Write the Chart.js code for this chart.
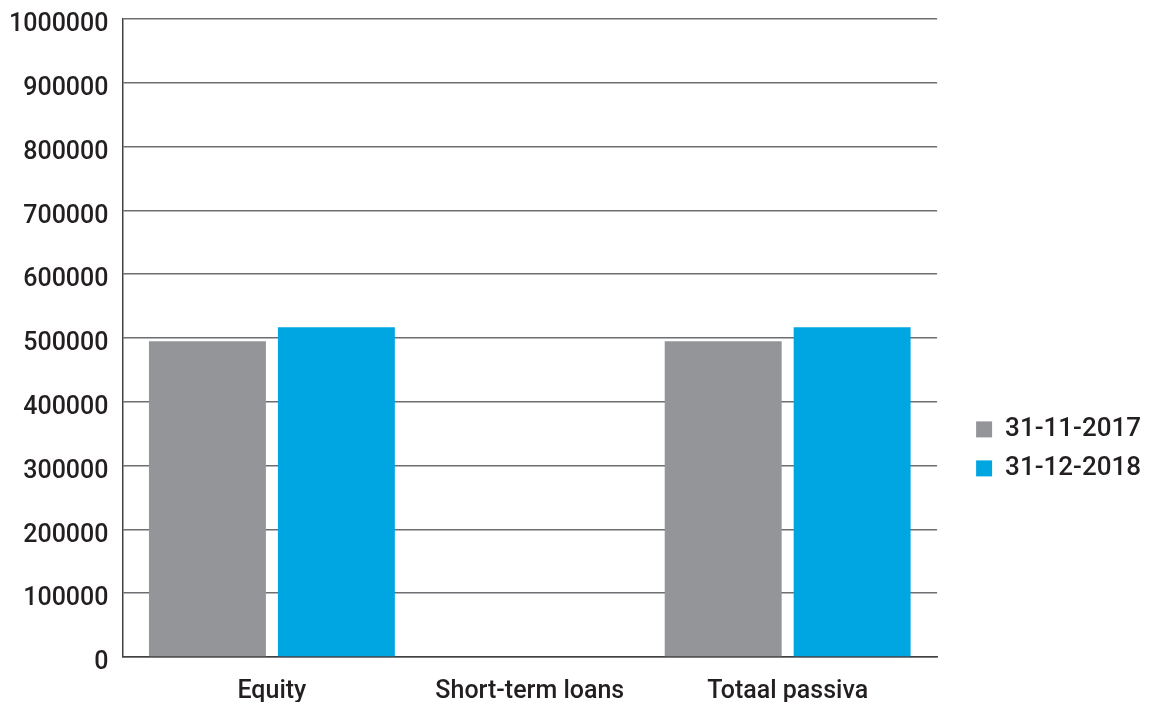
<!DOCTYPE html>
<html>
<head>
<meta charset="utf-8">
<script src="https://cdn.jsdelivr.net/npm/chart.js@4"></script>
<style>
  html, body { margin: 0; padding: 0; background: #ffffff; }
  #wrap { width: 1151px; height: 702px; position: relative; }
</style>
</head>
<body>
<div id="wrap"><canvas id="c"></canvas></div>
<script>
const categories = ['Equity', 'Short-term loans', 'Totaal passiva'];
const seriesNames = ['31-11-2017', '31-12-2018'];
const values2017 = [495000, 0, 495000];
const values2018 = [517000, 0, 517000];
const yTicks = [0, 100000, 200000, 300000, 400000, 500000, 600000, 700000, 800000, 900000, 1000000];

const FONT = 'Roboto, "Liberation Sans", Arial, sans-serif';
const TEXT = '#231f20';

const toPoints = arr => arr.map((v, i) => ({ x: i, y: v }));

new Chart(document.getElementById('c'), {
  type: 'bar',
  data: {
    datasets: [
      { label: seriesNames[0], data: toPoints(values2017), backgroundColor: '#939598' },
      { label: seriesNames[1], data: toPoints(values2018), backgroundColor: '#00a6e1' }
    ]
  },
  options: {
    responsive: true,
    maintainAspectRatio: false,
    animation: false,
    layout: { padding: { left: -5, right: 0, top: 0, bottom: -25 } },
    datasets: { bar: { categoryPercentage: 1.0, barPercentage: 0.907 } },
    scales: {
      x: {
        type: 'linear',
        min: -0.5795,
        max: 2.5795,
        offset: false,
        grid: { display: false, drawTicks: false },
        border: { display: true, color: '#414042', width: 1.5 },
        ticks: {
          stepSize: 1,
          includeBounds: false,
          autoSkip: false,
          maxRotation: 0,
          padding: 20,
          color: TEXT,
          font: { family: FONT, size: 25, weight: '500' },
          callback: v => (Number.isInteger(v) && categories[v] !== undefined) ? categories[v] : ''
        }
      },
      y: {
        min: 0,
        max: 1000000,
        afterBuildTicks: s => { s.ticks = yTicks.map(v => ({ value: v })); },
        grid: { color: '#6d6e71', lineWidth: 1.5, drawTicks: false },
        border: { display: true, color: '#414042', width: 1.5 },
        ticks: {
          padding: 14,
          labelOffset: 6,
          color: TEXT,
          font: { family: FONT, size: 25, weight: '500', lineHeight: 0.4 },
          callback: v => String(v)
        }
      },
      ySpacer: {
        position: 'right',
        min: 0,
        max: 1,
        grid: { display: false, drawTicks: false },
        border: { display: false },
        ticks: { padding: 13, callback: () => '', font: { size: 1, lineHeight: 0.1 } }
      }
    },
    plugins: {
      tooltip: { enabled: false },
      legend: {
        position: 'right',
        align: 'start',
        title: { display: true, text: '', padding: { top: 389, bottom: 0 }, font: { size: 12 } },
        labels: {
          boxWidth: 16,
          boxHeight: 16,
          padding: 13,
          color: TEXT,
          font: { family: FONT, size: 26, weight: '500' }
        }
      }
    }
  }
});
</script>
</body>
</html>
